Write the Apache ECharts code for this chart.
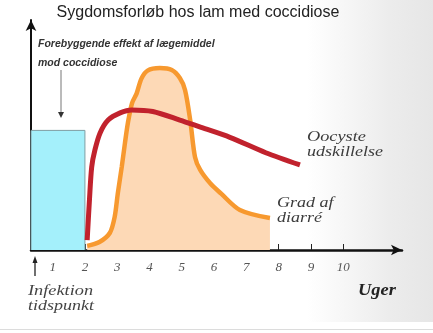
<!DOCTYPE html>
<html>
<head>
<meta charset="utf-8">
<script src="https://cdn.jsdelivr.net/npm/echarts@6/dist/echarts.min.js"></script>
<style>
  html, body { margin: 0; padding: 0; background: #fff; }
  #wrap { position: relative; width: 433px; height: 333px; background: #fff; overflow: hidden; }
  #shade { position: absolute; left: 0; top: 0; width: 433px; height: 322px;
           background: linear-gradient(to right, #fff 0%, #fff 71%, #ececec 90%, #e6e6e6 100%); }
  #edge { position: absolute; left: 0; top: 329px; width: 433px; height: 1px; background: #dcdcdc; }
  #chart { position: absolute; left: 0; top: 0; width: 433px; height: 333px; }
</style>
</head>
<body>
<div id="wrap"><div id="shade"></div><div id="edge"></div><div id="chart"></div></div>
<script>
// Weeks after infection shown on the time axis
const weekTicks = [1, 2, 3, 4, 5, 6, 7, 8, 9, 10];
const weekMin = 0.33;
const weekMax = 11.82;

// Preventive effect of the drug (first two weeks)
const preventionWeeks = [weekMin, weekMin, 2, 2];
const preventionLevel = [0, 52, 52, 0];

// Oocyst shedding
const oocystWeeks = [2.07, 2.14, 2.21, 2.31, 2.47, 2.72, 3.09, 3.45, 4.10, 4.94, 5.60, 6.49, 7.60, 8.66];
const oocystLevel = [4.3, 21.7, 36.1, 43.5, 50.9, 56.5, 59.6, 60.9, 60.2, 56.5, 53.3, 49.0, 42.3, 37.0];

// Degree of diarrhoea
const diarrheaWeeks = [2.07, 2.45, 2.77, 2.92, 3.02, 3.14, 3.24, 3.33, 3.46, 3.60, 3.75, 3.94, 4.32, 4.69, 4.94, 5.10, 5.26, 5.41, 5.57, 5.88, 6.22, 6.80, 7.73];
const diarrheaLevel = [1.8, 3.5, 7.4, 14.3, 24.8, 36.1, 46.5, 55.2, 63.9, 68.0, 74.5, 78.0, 79.1, 78.3, 74.8, 69.6, 56.5, 40.4, 34.8, 29.0, 24.5, 17.4, 13.9];

const pairs = (xs, ys) => xs.map((x, i) => [x, ys[i]]);

const serifItalic = size => 'italic ' + size + 'px "Liberation Serif", "Times New Roman", serif';

function label(text, x, y, font, fill, scaleX, align) {
  return {
    type: 'text', x: x, y: y, scaleX: scaleX || 1, z: 100,
    style: { text: text, font: font, fill: fill, align: align || 'left', verticalAlign: 'middle' }
  };
}

const chart = echarts.init(document.getElementById('chart'), null, { renderer: 'canvas' });

chart.setOption({
  animation: false,
  backgroundColor: 'transparent',
  grid: { left: 31, right: 31, top: 20, bottom: 83 },
  xAxis: {
    type: 'value',
    min: weekMin,
    max: weekMax,
    axisLine: {
      show: true,
      symbol: ['none', 'arrow'],
      symbolSize: [8, 11],
      lineStyle: { color: '#111', width: 2.5 }
    },
    axisTick: {
      show: true, inside: true, length: 6,
      customValues: weekTicks,
      lineStyle: { color: '#222', width: 1 }
    },
    axisLabel: {
      customValues: weekTicks,
      margin: 11,
      color: '#555',
      fontFamily: '"Liberation Serif", "Times New Roman", serif',
      fontStyle: 'italic',
      fontSize: 13
    },
    splitLine: { show: false }
  },
  yAxis: {
    type: 'value',
    min: 0,
    max: 100,
    axisLine: {
      show: true,
      symbol: ['none', 'arrow'],
      symbolSize: [8, 11],
      lineStyle: { color: '#111', width: 2 }
    },
    axisTick: { show: false },
    axisLabel: { show: false },
    splitLine: { show: false }
  },
  series: [
    {
      name: 'Forebyggende effekt',
      type: 'line',
      data: pairs(preventionWeeks, preventionLevel),
      symbol: 'none',
      lineStyle: { color: '#7f9ea4', width: 1 },
      areaStyle: { color: '#a4f0fb', opacity: 1 },
      z: 2
    },
    {
      name: 'Grad af diarré',
      type: 'line',
      data: pairs(diarrheaWeeks, diarrheaLevel),
      symbol: 'none',
      smooth: 0.3,
      lineStyle: { color: '#f7992f', width: 4.5 },
      areaStyle: { color: '#fdd9b6', opacity: 1 },
      z: 3
    },
    {
      name: 'Oocyste udskillelse',
      type: 'line',
      data: pairs(oocystWeeks, oocystLevel),
      symbol: 'none',
      smooth: 0.3,
      lineStyle: { color: '#c1222d', width: 5 },
      z: 4
    }
  ],
  graphic: [
    label('Sygdomsforløb hos lam med coccidiose', 198, 13, '16px "Liberation Sans", Arial, sans-serif', '#222', 1, 'center'),
    label('Forebyggende effekt af lægemiddel', 38, 44, 'italic bold 10.5px "Liberation Sans", Arial, sans-serif', '#333'),
    label('mod coccidiose', 38, 63, 'italic bold 10.5px "Liberation Sans", Arial, sans-serif', '#333'),
    { type: 'line', z: 100, shape: { x1: 61, y1: 70, x2: 61, y2: 113 }, style: { stroke: '#777', lineWidth: 1 } },
    { type: 'polygon', z: 100, shape: { points: [[58, 112], [64, 112], [61, 118]] }, style: { fill: '#333' } },
    label('Oocyste', 307, 137, serifItalic(15), '#3c3c3c', 1.22),
    label('udskillelse', 307, 152, serifItalic(15), '#3c3c3c', 1.2),
    label('Grad af', 277, 203, serifItalic(15), '#3c3c3c', 1.2),
    label('diarré', 277, 218, serifItalic(15), '#3c3c3c', 1.2),
    { type: 'line', z: 100, shape: { x1: 35, y1: 262, x2: 35, y2: 276 }, style: { stroke: '#222', lineWidth: 1.3 } },
    { type: 'polygon', z: 100, shape: { points: [[32.5, 263], [37.5, 263], [35, 256]] }, style: { fill: '#222' } },
    label('Infektion', 28, 291, serifItalic(15), '#444', 1.22),
    label('tidspunkt', 28, 306, serifItalic(15), '#444', 1.2),
    label('Uger', 358, 291, 'italic bold 16px "Liberation Serif", "Times New Roman", serif', '#222', 1.15)
  ]
});
</script>
</body>
</html>
